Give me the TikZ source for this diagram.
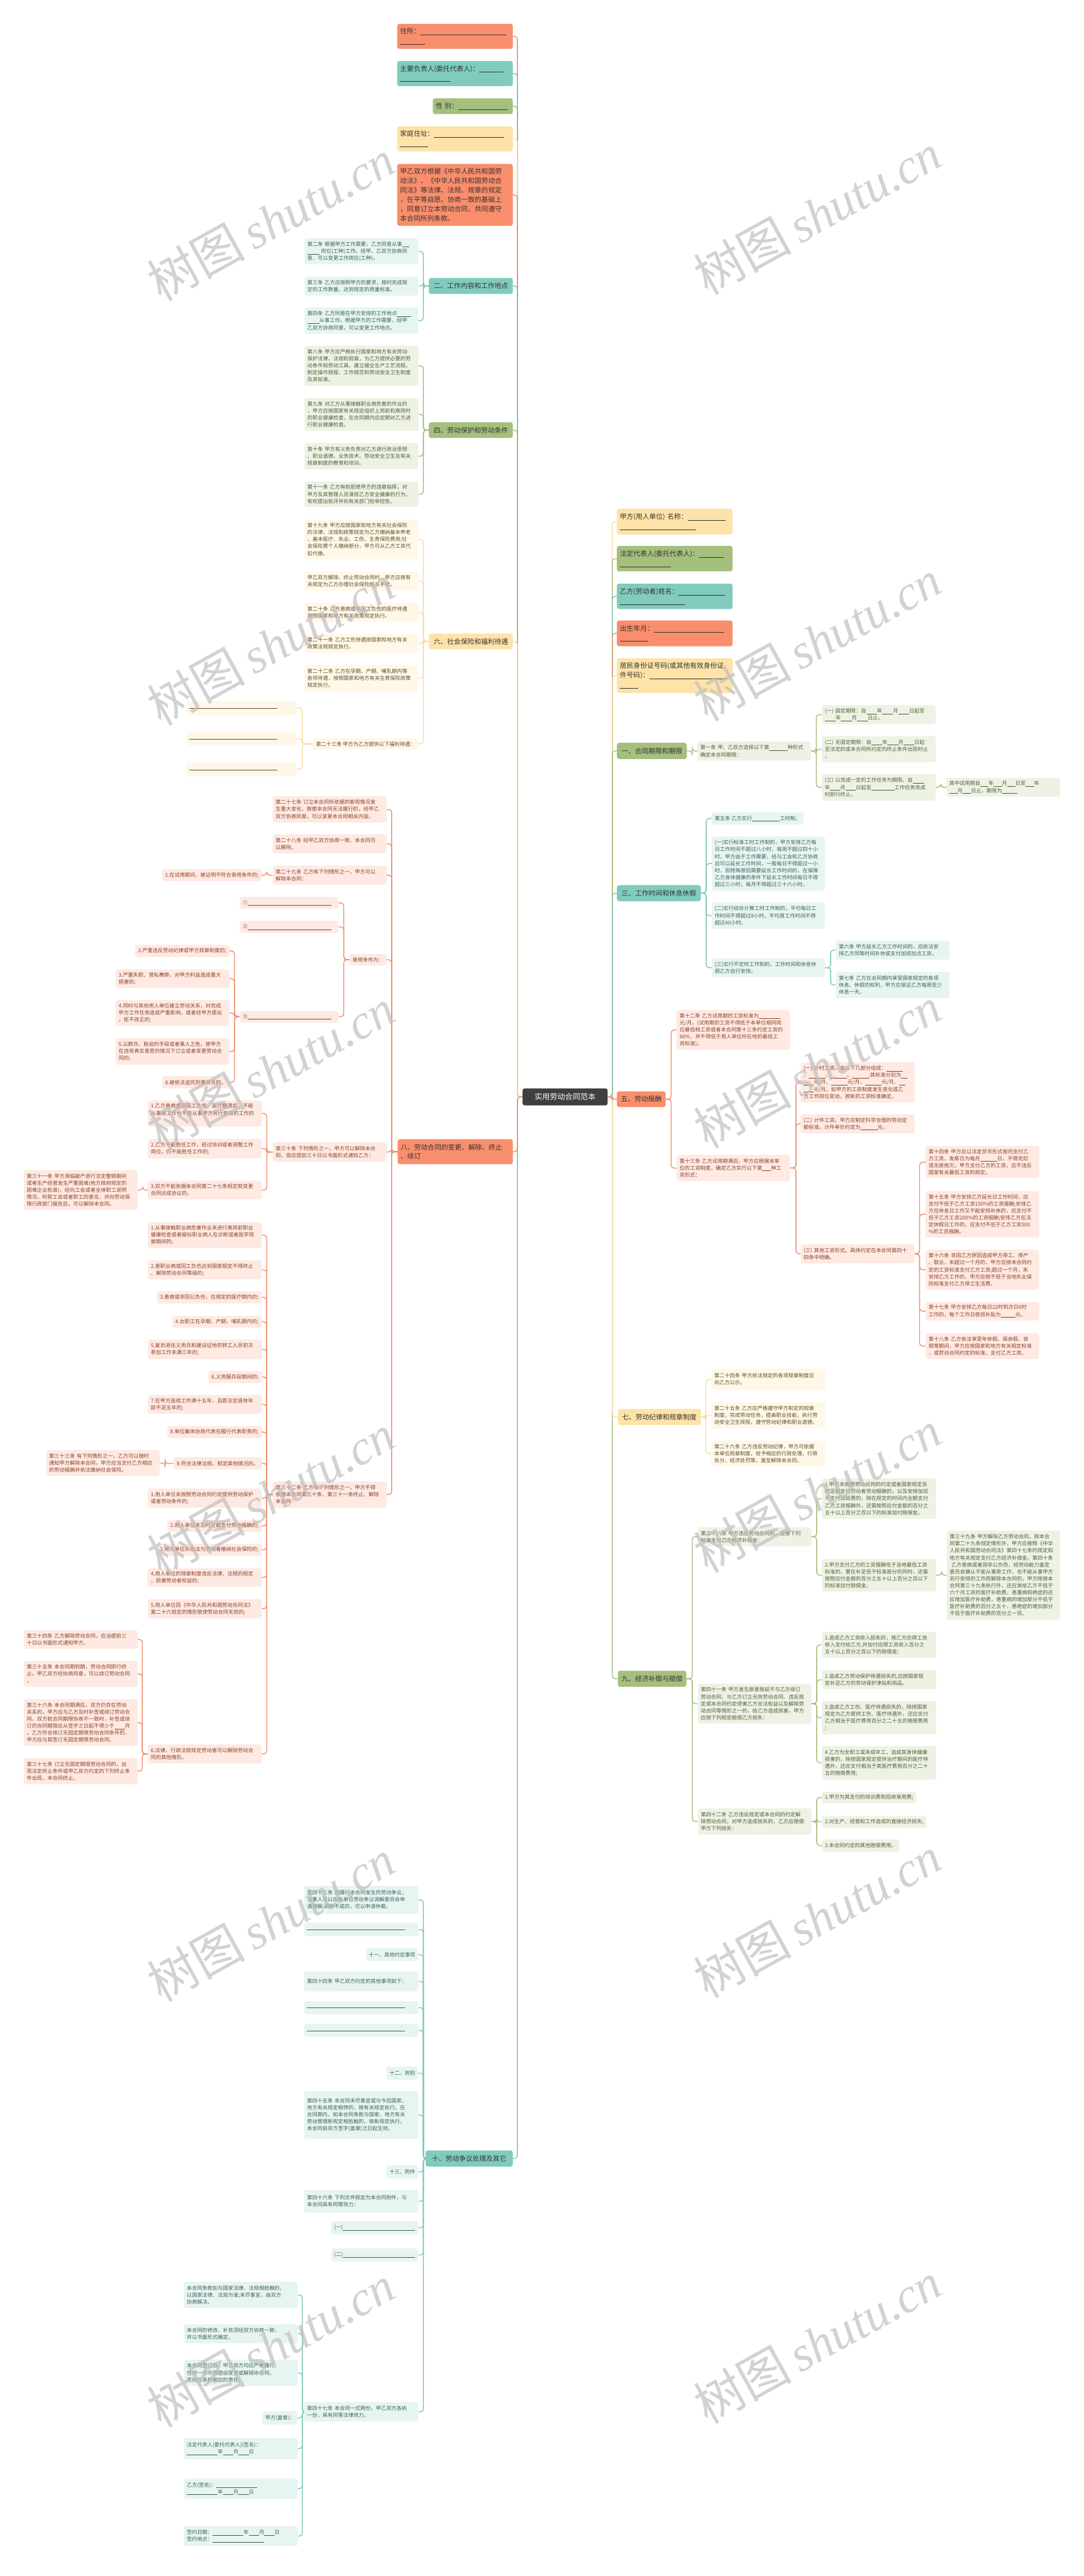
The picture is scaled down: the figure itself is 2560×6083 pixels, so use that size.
\documentclass[tikz,border=0pt]{standalone}
\usepackage{fontspec}
\setmainfont{Noto Sans CJK SC}
\newfontfamily\wmserif{Liberation Serif}
\pgfdeclarelayer{bg}\pgfdeclarelayer{fg}\pgfsetlayers{bg,main,fg}
\definecolor{cO}{HTML}{F98E6C}
\definecolor{cT}{HTML}{80CBBD}
\definecolor{cG}{HTML}{A5BF7D}
\definecolor{cY}{HTML}{FEE3A8}
\definecolor{cC}{HTML}{3E3F41}
\definecolor{fO}{HTML}{FEEAE3}
\definecolor{fT}{HTML}{E7F5F2}
\definecolor{fG}{HTML}{EEF2E5}
\definecolor{fY}{HTML}{FFF8E8}
\definecolor{tO}{HTML}{8C4127}
\definecolor{tT}{HTML}{3D5F58}
\definecolor{tG}{HTML}{4F5E38}
\definecolor{tY}{HTML}{5E4C2B}
\definecolor{tx}{HTML}{333333}
\definecolor{lO}{HTML}{F08D6C}
\definecolor{lT}{HTML}{7CC6B8}
\definecolor{lG}{HTML}{A3BC7B}
\definecolor{lY}{HTML}{F7DC9C}
\newcommand\bln[1]{\rule[-0.2em]{#1em}{0.07em}}
\newcommand\mkbox[7]{\pgfmathsetmacro\bw{#5-#3-14}\pgfmathsetmacro\bh{#6-#4}\node[#1,text width=\bw pt,minimum height=\bh pt] (#2) at (#3,#4) {#7};}
\newcommand\mkboxR[6]{\pgfmathsetmacro\bh{#5-#4}\node[#1,anchor=north east,minimum height=\bh pt] (#2) at (#3,#4) {#6};}
\newcommand\mkboxL[6]{\pgfmathsetmacro\bh{#5-#4}\node[#1,anchor=north west,minimum height=\bh pt] (#2) at (#3,#4) {#6};}
\newcommand\lkL[4]{\draw[#1] (#2.west) -- (#4,0 |- #2.west) |- (#3.east);}
\newcommand\lkR[4]{\draw[#1] (#2.east) -- (#4,0 |- #2.east) |- (#3.west);}
\tikzset{
 base/.style={rectangle,rounded corners=5pt,inner xsep=7pt,inner ysep=3pt,align=left,anchor=north west},
 tp/.style={base,fill=#1,text=tx,font=\fontsize{16}{22}\selectfont},
 hd/.style={base,fill=#1,text=tx,font=\fontsize{16}{20}\selectfont,align=center},
 lf/.style 2 args={base,fill=#1,text=#2,font=\fontsize{12.2}{16.5}\selectfont},
 lfO/.style={lf={fO}{tO}}, lfT/.style={lf={fT}{tT}}, lfG/.style={lf={fG}{tG}}, lfY/.style={lf={fY}{tY}},
 ln/.style={draw=#1,line width=2pt,rounded corners=7pt},
 wm/.style={text=black!25,opacity=0.7,rotate=29,font=\fontsize{116}{116}\selectfont}
}
\begin{document}
\begin{tikzpicture}[x=1pt,y=-1pt]
\begin{pgfonlayer}{bg}
\fill[white] (0,0) rectangle (2560,6083);
\end{pgfonlayer}
\useasboundingbox (0,0) rectangle (2560,6083);
% central
\node[base,fill=cC,text=white,font=\fontsize{18}{20}\selectfont,minimum width=201pt,minimum height=40pt,align=center] (C) at (1234,2570) {实用劳动合同范本};
% ---------- left top-level
\mkbox{tp=cO}{L1}{938}{56}{1211}{115}{住所：\bln{12.6}\\\bln{3.7}}
\mkbox{tp=cT}{L2}{938}{144}{1211}{203}{主要负责人(委托代表人)：\bln{3.6}\\\bln{7.4}}
\mkbox{tp=cG}{L3}{1022}{232}{1211}{269}{性~别：\bln{7.2}}
\mkbox{tp=cY}{L4}{938}{298}{1211}{357}{家庭住址：\bln{10.4}\\\bln{4.1}}
\mkbox{tp=cO}{L5}{938}{387}{1211}{533}{甲乙双方根据《中华人民共和国劳\\动法》、《中华人民共和国劳动合\\同法》等法律、法规、规章的规定\\，在平等自愿、协商一致的基础上\\，同意订立本劳动合同，共同遵守\\本合同所列条款。}
% ---------- 二
\mkbox{hd=cT}{H2}{1013}{656}{1211}{694}{二、工作内容和工作地点}
\mkbox{lfT}{a2}{719}{563}{988}{624}{第二条~根据甲方工作需要，乙方同意从事\bln{1.4}\\\bln{2.3}~岗位(工种)工作。经甲、乙双方协商同\\意，可以变更工作岗位(工种)。}
\mkbox{lfT}{a3}{719}{653}{988}{698}{第三条~乙方应按照甲方的要求，按时完成规\\定的工作数量，达到规定的质量标准。}
\mkbox{lfT}{a4}{719}{726}{988}{788}{第四条~乙方同意在甲方安排的工作地点\bln{2.8}\\\bln{2.3}从事工作。根据甲方的工作需要，经甲\\乙双方协商同意，可以变更工作地点。}
% ---------- 四
\mkbox{hd=cG}{H4}{1013}{997}{1211}{1034}{四、劳动保护和劳动条件}
\mkbox{lfG}{a8}{719}{816}{988}{911}{第八条~甲方应严格执行国家和地方有关劳动\\保护法律、法规和规章，为乙方提供必要的劳\\动条件和劳动工具，建立健全生产工艺流程，\\制定操作规程、工作规范和劳动安全卫生制度\\及其标准。}
\mkbox{lfG}{a9}{719}{940}{988}{1017}{第九条~对乙方从事接触职业病危害的作业的\\，甲方应按国家有关规定组织上岗前和离岗时\\的职业健康检查，在合同期内应定期对乙方进\\行职业健康检查。}
\mkbox{lfG}{a10}{719}{1046}{988}{1108}{第十条~甲方有义务负责对乙方进行政治思想\\、职业道德、业务技术、劳动安全卫生及有关\\规章制度的教育和培训。}
\mkbox{lfG}{a11}{719}{1137}{988}{1197}{第十一条~乙方有权拒绝甲方的违章指挥，对\\甲方及其管理人员漠视乙方安全健康的行为，\\有权提出批评并向有关部门检举控告。}
% ---------- 六
\mkbox{hd=cY}{H6}{1013}{1496}{1211}{1533}{六、社会保险和福利待遇}
\mkbox{lfY}{a19}{719}{1227}{988}{1320}{第十九条~甲方应按国家和地方有关社会保险\\的法律、法规和政策规定为乙方缴纳基本养老\\、基本医疗、失业、工伤、生育保险费用;社\\会保险费个人缴纳部分，甲方可从乙方工资代\\扣代缴。}
\mkbox{lfY}{a19b}{719}{1350}{988}{1394}{甲乙双方解除、终止劳动合同时，甲方应按有\\关规定为乙方办理社会保险相关手续。}
\mkbox{lfY}{a20}{719}{1423}{988}{1468}{第二十条~乙方患病或非因工负伤的医疗待遇\\按照国家和地方有关政策规定执行。}
\mkbox{lfY}{a21}{719}{1497}{988}{1542}{第二十一条~乙方工伤待遇按国家和地方有关\\政策法规规定执行。}
\mkbox{lfY}{a22}{719}{1570}{988}{1632}{第二十二条~乙方在孕期、产期、哺乳期内等\\各项待遇，按照国家和地方有关生育保险政策\\规定执行。}
\mkboxR{lfY}{a23}{988}{1743}{1770}{第二十三条~甲方为乙方提供以下福利待遇：}
\mkbox{lfY}{a231}{440}{1655}{700}{1688}{\bln{17}}
\mkbox{lfY}{a232}{440}{1728}{700}{1761}{\bln{17}}
\mkbox{lfY}{a233}{440}{1800}{700}{1833}{\bln{17}}
% ---------- 八
\mkbox{hd=cO,align=left}{H8}{939}{2690}{1211}{2749}{八、劳动合同的变更、解除、终止\\、续订}
\mkbox{lfO}{g27}{644}{1880}{913}{1942}{第二十七条~订立本合同所依据的客观情况发\\生重大变化，致使本合同无法履行的，经甲乙\\双方协商同意，可以变更本合同相关内容。}
\mkbox{lfO}{g28}{644}{1970}{913}{2015}{第二十八条~经甲乙双方协商一致，本合同可\\以解除。}
\mkbox{lfO}{g29}{644}{2044}{913}{2089}{第二十九条~乙方有下列情形之一，甲方可以\\解除本合同：}
\mkboxR{lfO}{g291}{618}{2052}{2081}{1.在试用期间，被证明不符合录用条件的;}
\mkboxR{lfO}{gL}{913}{2252}{2280}{录用条件为：}
\mkbox{lfO}{gc1}{566}{2118}{799}{2146}{①\bln{16.2}}
\mkbox{lfO}{gc2}{566}{2174}{799}{2203}{②\bln{16.2}}
\mkbox{lfO}{gc3}{566}{2387}{799}{2414}{③\bln{16.2}}
\mkboxR{lfO}{g3a}{542}{2231}{2260}{2.严重违反劳动纪律或甲方规章制度的;}
\mkbox{lfO}{g3b}{273}{2289}{542}{2333}{3.严重失职、营私舞弊，对甲方利益造成重大\\损害的;}
\mkbox{lfO}{g3c}{273}{2361}{542}{2423}{4.同时与其他用人单位建立劳动关系，对完成\\甲方工作任务造成严重影响，或者经甲方提出\\，拒不改正的;}
\mkbox{lfO}{g3d}{273}{2452}{542}{2514}{5.以欺诈、胁迫的手段或者乘人之危，使甲方\\在违背真实意思的情况下订立或者变更劳动合\\同的;}
\mkboxR{lfO}{g3e}{542}{2541}{2570}{6.被依法追究刑事责任的。}
\mkbox{lfO}{g30}{644}{2697}{913}{2743}{第三十条~下列情形之一，甲方可以解除本合\\同，但应提前三十日以书面形式通知乙方：}
\mkbox{lfO}{g301}{349}{2598}{618}{2660}{1.乙方患病或非因工负伤，医疗期满后，不能\\从事原工作也不能从事甲方另行安排的工作的\\;}
\mkbox{lfO}{g302}{349}{2689}{618}{2735}{2.乙方不能胜任工作，经过培训或者调整工作\\岗位，仍不能胜任工作的;}
\mkbox{lfO}{g303}{349}{2788}{618}{2832}{3.双方不能依据本合同第二十七条规定就变更\\合同达成协议的。}
\mkbox{lfO}{g31}{56}{2763}{325}{2857}{第三十一条~甲方濒临破产进行法定整顿期间\\或者生产经营发生严重困难(地方政府规定的\\困难企业标准)，经向工会或者全体职工说明\\情况，听取工会或者职工的意见，并向劳动保\\障行政部门报告后，可以解除本合同。}
\mkbox{lfO}{g32}{644}{3498}{913}{3560}{第三十二条~乙方有下列情形之一，甲方不得\\依据本合同第三十条、第三十一条终止、解除\\本合同：}
\mkbox{lfO}{g321}{349}{2886}{618}{2947}{1.从事接触职业病危害作业未进行离岗前职业\\健康检查或者疑似职业病人在诊断或者医学观\\察期间的;}
\mkbox{lfO}{g322}{349}{2976}{618}{3021}{2.患职业病或因工负伤达到国家规定不得终止\\、解除劳动合同等级的;}
\mkboxR{lfO}{g323}{618}{3049}{3078}{3.患病或非因公负伤，在规定的医疗期内的;}
\mkboxR{lfO}{g324}{618}{3107}{3135}{4.女职工在孕期、产期、哺乳期内的;}
\mkbox{lfO}{g325}{349}{3163}{618}{3209}{5.复员退伍义务兵和建设征地农转工人员初次\\参加工作未满三年的;}
\mkboxR{lfO}{g326}{618}{3237}{3266}{6.义务服兵役期间的;}
\mkbox{lfO}{g327}{349}{3294}{618}{3338}{7.在甲方连续工作满十五年，且距法定退休年\\龄不足五年的;}
\mkboxR{lfO}{g328}{618}{3367}{3396}{8.单位集体协商代表在履行代表职责的;}
\mkboxR{lfO}{g329}{618}{3441}{3470}{9.符合法律法规、规定其他情况的。}
\mkbox{lfO}{g33}{109}{3424}{377}{3485}{第三十三条~有下列情形之一，乙方可以随时\\通知甲方解除本合同，甲方应当支付乙方相应\\的劳动报酬并依法缴纳社会保险。}
\mkbox{lfO}{gu1}{349}{3515}{618}{3560}{1.用人单位未按照劳动合同约定提供劳动保护\\或者劳动条件的;}
\mkboxR{lfO}{gu2}{618}{3589}{3617}{2.用人单位未及时足额支付劳动报酬的;}
\mkboxR{lfO}{gu3}{618}{3645}{3674}{3.用人单位未依法为劳动者缴纳社会保险的;}
\mkbox{lfO}{gu4}{349}{3703}{618}{3747}{4.用人单位的规章制度违反法律、法规的规定\\，损害劳动者权益的;}
\mkbox{lfO}{gu5}{349}{3776}{618}{3821}{5.用人单位因《中华人民共和国劳动合同法》\\第二十六规定的情形致使劳动合同无效的;}
\mkbox{lfO}{gu6}{349}{4119}{618}{4164}{6.法律、行政法规规定劳动者可以解除劳动合\\同的其他情形。}
\mkbox{lfO}{h34}{56}{3849}{325}{3893}{第三十四条~乙方解除劳动合同，应当提前三\\十日以书面形式通知甲方。}
\mkbox{lfO}{h35}{56}{3922}{325}{3983}{第三十五条~本合同期到期，劳动合同即行终\\止。甲乙双方经协商同意，可以续订劳动合同\\。}
\mkbox{lfO}{h36}{56}{4012}{325}{4123}{第三十六条~本合同期满后，双方仍存在劳动\\关系的，甲方应与乙方及时补签或续订劳动合\\同，双方就合同期限协商不一致时，补签或续\\订的合同期限应从签字之日起不得少于\bln{2}月\\。乙方符合续订无固定期限劳动合同条件的，\\甲方应与其签订无固定期限劳动合同。}
\mkbox{lfO}{h37}{56}{4151}{325}{4213}{第三十七条~订立无固定期限劳动合同的，出\\现法定终止条件或甲乙双方约定的下列终止条\\件出现，本合同终止。}
% ---------- 十
\mkbox{hd=cT}{H10}{1005}{5078}{1211}{5116}{十、劳动争议处理及其它}
\mkbox{lfT}{k1}{718}{4453}{988}{4519}{第四十三条~因履行本合同发生的劳动争议，\\当事人可以向本单位劳动争议调解委员会申\\请调解;调解不成的，可以申请仲裁。}
\mkbox{lfT}{k2}{718}{4540}{988}{4572}{\bln{19}}
\mkboxR{lfT}{k3}{988}{4600}{4631}{十一、其他约定事项}
\mkbox{lfT}{k4}{718}{4655}{988}{4702}{第四十四条~甲乙双方约定的其他事项如下：\\}
\mkbox{lfT}{k5}{718}{4725}{988}{4756}{\bln{19}}
\mkbox{lfT}{k6}{718}{4779}{988}{4810}{\bln{19}}
\mkboxR{lfT}{k7}{988}{4880}{4911}{十二、附则}
\mkbox{lfT}{k8}{718}{4938}{988}{5050}{第四十五条~本合同未尽事宜或与今后国家、\\地方有关规定相悖的，按有关规定执行。在\\合同期内，如本合同条款与国家、地方有关\\劳动管理新规定相抵触的，按新规定执行。\\本合同自双方签字(盖章)之日起生效。}
\mkboxR{lfT}{k9}{988}{5113}{5144}{十三、附件}
\mkbox{lfT}{k10}{718}{5171}{988}{5225}{第四十六条~下列文件规定为本合同附件，与\\本合同具有同等效力：}
\mkboxR{lfT}{k11}{988}{5245}{5276}{(一)\bln{14}}
\mkboxR{lfT}{k12}{988}{5309}{5340}{(二)\bln{14}}
\mkbox{lfT}{k13}{718}{5672}{988}{5718}{第四十七条~本合同一式两份，甲乙双方各执\\一份，具有同等法律效力。}
\mkbox{lfT}{m1}{434}{5388}{703}{5450}{本合同条款如与国家法律、法规相抵触的，\\以国家法律、法规为准;未尽事宜，由双方\\协商解决。}
\mkbox{lfT}{m2}{434}{5488}{703}{5533}{本合同的修改、补充须经双方协商一致，\\并以书面形式确定。}
\mkbox{lfT}{m3}{434}{5572}{703}{5634}{本合同签订后，甲乙双方均应严格履行，\\任何一方不得擅自变更或解除本合同，\\否则应承担相应的责任。}
\mkboxR{lfT}{m4}{703}{5694}{5725}{甲方(盖章)：}
\mkbox{lfT}{m5}{434}{5757}{703}{5807}{法定代表人(委托代表人)(签名)：\\\bln{6}年\bln{2}月\bln{2}日}
\mkbox{lfT}{m6}{434}{5853}{703}{5900}{乙方(签名)：\bln{8}\\\bln{6}年\bln{2}月\bln{2}日}
\mkbox{lfT}{m7}{434}{5965}{703}{6012}{签约日期：\bln{6}年\bln{2}月\bln{2}日\\签约地点：\bln{10}}
% ---------- right top-level
\mkbox{tp=cY}{R1}{1457}{1201}{1730}{1262}{甲方(用人单位)~名称：\bln{5.6}\\\bln{11.2}}
\mkbox{tp=cG}{R2}{1457}{1289}{1730}{1349}{法定代表人(委托代表人)：\bln{3.6}\\\bln{7.5}}
\mkbox{tp=cT}{R3}{1457}{1378}{1730}{1438}{乙方(劳动者)姓名：\bln{6.8}\\\bln{9.7}}
\mkbox{tp=cO}{R4}{1457}{1465}{1730}{1526}{出生年月：\bln{10.4}\\\bln{4.2}}
\mkbox{tp=cY}{R5}{1457}{1554}{1730}{1636}{居民身份证号码(或其他有效身份证\\件号码)：\bln{11.4}\\\bln{2.7}}
% ---------- 一
\mkbox{hd=cG}{H1}{1457}{1754}{1622}{1792}{一、合同期限和期限}
\mkbox{lfG}{b1}{1647}{1751}{1915}{1796}{第一条~甲、乙双方选择以下第\bln{3.6}种形式\\确定本合同期限：}
\mkbox{lfG}{b11}{1941}{1665}{2210}{1710}{(一)~固定期限：自\bln{2.1}年\bln{2.1}月\bln{2.1}日起至\\\bln{2.1}年\bln{2.1}月\bln{2.1}日止。}
\mkbox{lfG}{b12}{1941}{1738}{2210}{1800}{(二)~无固定期限：自\bln{2.1}年\bln{2.1}月\bln{2.1}日起\\至法定的或本合同所约定的终止条件出现时止\\。}
\mkbox{lfG}{b13}{1941}{1828}{2210}{1890}{(三)~以完成一定的工作任务为期限。自\bln{2.2}\\年\bln{2}月\bln{2}日起至\bln{4.5}工作任务完成\\时即行终止。}
\mkbox{lfG}{b131}{2235}{1837}{2504}{1881}{其中试用期自\bln{1.6}年\bln{1.6}月\bln{1.6}日至\bln{1.6}年\\\bln{1.6}月\bln{1.6}日止，期限为\bln{3}}
% ---------- 三
\mkbox{hd=cT}{H3}{1457}{2090}{1655}{2128}{三、工作时间和休息休假}
\mkboxL{lfT}{c5}{1681}{1918}{1947}{第五条~乙方实行\bln{5.4}工时制。}
\mkbox{lfT}{c1}{1681}{1975}{1948}{2103}{(一)实行标准工时工作制的，甲方安排乙方每\\日工作时间不超过八小时，每周不超过四十小\\时。甲方由于工作需要，经与工会和乙方协商\\后可以延长工作时间，一般每日不得超过一小\\时，因特殊原因需要延长工作时间的，在保障\\乙方身体健康的条件下延长工作时间每日不得\\超过三小时，每月不得超过三十六小时。}
\mkbox{lfT}{c2}{1681}{2131}{1948}{2193}{(二)实行综合计算工时工作制的，平均每日工\\作时间不得超过8小时，平均周工作时间不得\\超过40小时。}
\mkbox{lfT}{c3}{1681}{2263}{1948}{2307}{(三)实行不定时工作制的，工作时间和休息休\\假乙方自行安排。}
\mkbox{lfT}{c6}{1974}{2221}{2243}{2266}{第六条~甲方延长乙方工作时间的，应依法安\\排乙方同等时间补休或支付加班加点工资。}
\mkbox{lfT}{c7}{1974}{2295}{2243}{2357}{第七条~乙方在合同期内享受国家规定的各项\\休息、休假的权利，甲方应保证乙方每周至少\\休息一天。}
% ---------- 五
\mkbox{hd=cO}{H5}{1457}{2577}{1572}{2614}{五、劳动报酬}
\mkbox{lfO}{d12}{1598}{2385}{1866}{2479}{第十二条~乙方试用期的工资标准为\bln{4.2}\\元/月。(试用期的工资不得低于本单位相同岗\\位最低档工资或者本合同第十三条约定工资的\\80\%，并不得低于用人单位所在地的最低工\\资标准)。}
\mkbox{lfO}{d13}{1598}{2727}{1866}{2789}{第十三条~乙方试用期满后，甲方应根据本单\\位的工资制度，确定乙方实行以下第\bln{1.7}种工\\资形式：}
\mkbox{lfO}{d131}{1891}{2508}{2160}{2603}{(一)~计时工资。由以下几部分组成：\bln{3.2}\\、\bln{3.2}、\bln{3.2}、\bln{3.2};其标准分别为\bln{1.2}\\\bln{1.9}元/月、\bln{3.2}元/月、\bln{3.2}元/月、\bln{1.2}\\\bln{1.9}元/月。如甲方的工资制度发生变化或乙\\方工作岗位变动，按新的工资标准确定。}
\mkbox{lfO}{d132}{1891}{2631}{2160}{2676}{(二)~计件工资。甲方应制定科学合理的劳动定\\额标准，计件单价约定为\bln{3.3}元。}
\mkbox{lfO}{d133}{1891}{2938}{2160}{2983}{(三)~其他工资形式。具体约定在本合同第四十\\四条中明确。}
\mkbox{lfO}{d14}{2186}{2706}{2454}{2782}{第十四条~甲方应以法定货币形式按月支付乙\\方工资，发薪日为每月\bln{3.3}日，不得克扣\\或无故拖欠。甲方支付乙方的工资，应不违反\\国家有关最低工资的规定。}
\mkbox{lfO}{d15}{2186}{2812}{2454}{2922}{第十五条~甲方安排乙方延长日工作时间，应\\支付不低于乙方工资150\%的工资报酬;安排乙\\方在休息日工作又不能安排补休的，应支付不\\低于乙方工资200\%的工资报酬;安排乙方在法\\定休假日工作的，应支付不低于乙方工资300\\\%的工资报酬。}
\mkbox{lfO}{d16}{2186}{2951}{2454}{3045}{第十六条~非因乙方原因造成甲方停工、停产\\、歇业，未超过一个月的，甲方应按本合同约\\定的工资标准支付乙方工资;超过一个月，未\\安排乙方工作的，甲方应按不低于当地失业保\\险标准支付乙方停工生活费。}
\mkbox{lfO}{d17}{2186}{3074}{2454}{3118}{第十七条~甲方安排乙方每日22时到次日6时\\工作的，每个工作日夜班补贴为\bln{2.8}元。}
\mkbox{lfO}{d18}{2186}{3148}{2454}{3209}{第十八条~乙方依法享受年休假、探亲假、丧\\假等期间，甲方应按国家和地方有关规定标准\\，或劳动合同约定的标准，支付乙方工资。}
% ---------- 七
\mkbox{hd=cY}{H7}{1459}{3327}{1655}{3365}{七、劳动纪律和规章制度}
\mkbox{lfY}{e24}{1680}{3232}{1949}{3282}{第二十四条~甲方依法规定的各项规章制度应\\向乙方公示。}
\mkbox{lfY}{e25}{1680}{3311}{1949}{3373}{第二十五条~乙方应严格遵守甲方制定的规章\\制度，完成劳动任务，提高职业技能，执行劳\\动安全卫生规程，遵守劳动纪律和职业道德。}
\mkbox{lfY}{e26}{1680}{3402}{1949}{3463}{第二十六条~乙方违反劳动纪律，甲方可依据\\本单位规章制度，给予相应的行政处理，行政\\处分、经济处罚等，直至解除本合同。}
% ---------- 九
\mkbox{hd=cG}{H9}{1459}{3945}{1621}{3983}{九、经济补偿与赔偿}
\mkbox{lfG}{f38}{1648}{3606}{1916}{3651}{第三十八条~甲方违反劳动合同的，应按下列\\标准支付乙方经济补偿金：}
\mkbox{lfG}{f381}{1941}{3491}{2211}{3586}{1.甲方未按照劳动合同的约定或者国家规定及\\时足额支付劳动者劳动报酬的，以及安排加班\\不支付加班费的，除在规定的时间内全额支付\\乙方工资报酬外，还需按照应付金额的百分之\\五十以上百分之百以下的标准加付赔偿金。}
\mkbox{lfG}{f382}{1941}{3681}{2211}{3758}{2.甲方支付乙方的工资报酬低于当地最低工资\\标准的，要在补足低于标准部分的同时，还需\\按照应付金额的百分之五十以上百分之百以下\\的标准加付赔偿金。}
\mkbox{lfG}{f39}{2236}{3614}{2504}{3825}{第三十九条~甲方解除乙方劳动合同，除本合\\同第二十九条规定情形外，甲方应按照《中华\\人民共和国劳动合同法》第四十七条的规定和\\地方有关规定支付乙方经济补偿金。第四十条\\~乙方患病或者因非公负伤，经劳动能力鉴定\\委员会确认不能从事原工作，也不能从事甲方\\另行安排的工作而解除本合同的，甲方除按本\\合同第三十九条执行外，还应发给乙方不低于\\六个月工资的医疗补助费。患重病和绝症的还\\应增加医疗补助费，患重病的增加部分不低于\\医疗补助费的百分之五十，患绝症的增加部分\\不低于医疗补助费的百分之一百。}
\mkbox{lfG}{f41}{1648}{3976}{1916}{4070}{第四十一条~甲方发生故意拖延不与乙方续订\\劳动合同、与乙方订立无效劳动合同、违反规\\定或本合同约定侵害乙方合法权益以及解除劳\\动合同等情形之一的，给乙方造成损害，甲方\\应按下列规定赔偿乙方损失：}
\mkbox{lfG}{f411}{1941}{3853}{2211}{3915}{1.造成乙方工资收入损失的，按乙方应得工资\\收入支付给乙方,并加付应得工资收入百分之\\五十以上百分之百以下的赔偿金;}
\mkbox{lfG}{f412}{1941}{3944}{2211}{3989}{2.造成乙方劳动保护待遇损失的,应按国家规\\定补足乙方的劳动保护津贴和用品。}
\mkbox{lfG}{f413}{1941}{4017}{2211}{4095}{3.造成乙方工伤、医疗待遇损失的，除按国家\\规定为乙方提供工伤、医疗待遇外，还应支付\\乙方相当于医疗费用百分之二十五的赔偿费用\\;}
\mkbox{lfG}{f414}{1941}{4123}{2211}{4202}{4.乙方为女职工或未成年工，造成其身体健康\\损害的，除按国家规定提供治疗期间的医疗待\\遇外，还应支付相当于其医疗费用百分之二十\\五的赔偿费用;}
\mkbox{lfG}{f42}{1648}{4270}{1916}{4332}{第四十二条~乙方违反规定或本合同的约定解\\除劳动合同，对甲方造成损失的，乙方应赔偿\\甲方下列损失：}
\mkboxL{lfG}{f421}{1941}{4231}{4258}{1.甲方为其支付的培训费和招收录用费;}
\mkboxL{lfG}{f422}{1941}{4288}{4316}{2.对生产、经营和工作造成的直接经济损失;}
\mkboxL{lfG}{f423}{1941}{4344}{4372}{3.本合同约定的其他赔偿费用。}
% ================= connectors
\begin{pgfonlayer}{bg}
\lkL{ln=lO}{C}{L1}{1222}\lkL{ln=lT}{C}{L2}{1222}\lkL{ln=lG}{C}{L3}{1222}\lkL{ln=lY}{C}{L4}{1222}\lkL{ln=lO}{C}{L5}{1222}
\lkL{ln=lT}{C}{H2}{1222}\lkL{ln=lG}{C}{H4}{1222}\lkL{ln=lY}{C}{H6}{1222}
\lkL{ln=lT}{C}{H10}{1222}\lkL{ln=lO}{C}{H8}{1222}
\lkR{ln=lY}{C}{R1}{1446}\lkR{ln=lG}{C}{R2}{1446}\lkR{ln=lT}{C}{R3}{1446}\lkR{ln=lO}{C}{R4}{1446}\lkR{ln=lY}{C}{R5}{1446}
\lkR{ln=lG}{C}{H1}{1446}\lkR{ln=lT}{C}{H3}{1446}
\lkR{ln=lG}{C}{H9}{1446}\lkR{ln=lY}{C}{H7}{1446}\lkR{ln=lO}{C}{H5}{1446}
\foreach \n in {a2,a3,a4}{\lkL{ln=lT}{H2}{\n}{1000}}
\foreach \n in {a8,a9,a10,a11}{\lkL{ln=lG}{H4}{\n}{1000}}
\foreach \n in {a19,a19b,a20,a21,a22,a23}{\lkL{ln=lY}{H6}{\n}{1000}}
\foreach \n in {a231,a232,a233}{\lkL{ln=lY}{a23}{\n}{714}}
\foreach \n in {g27,g28,g29,gL,g30,g32}{\lkL{ln=lO}{H8}{\n}{925}}
\lkL{ln=lO}{g29}{g291}{630}
\foreach \n in {gc1,gc2,gc3}{\lkL{ln=lO}{gL}{\n}{812}}
\foreach \n in {g3a,g3b,g3c,g3d,g3e}{\lkL{ln=lO}{gc3}{\n}{554}}
\foreach \n in {g301,g302,g303}{\lkL{ln=lO}{g30}{\n}{630}}
\lkL{ln=lO}{g303}{g31}{337}
\foreach \n in {g321,g322,g323,g324,g325,g326,g327,g328,g329,gu1,gu2,gu3,gu4,gu5,gu6}{\lkL{ln=lO}{g32}{\n}{630}}
\lkL{ln=lO}{g329}{g33}{390}
\foreach \n in {h34,h35,h36,h37}{\lkL{ln=lO}{gu6}{\n}{336}}
\foreach \n in {k1,k2,k3,k4,k5,k6,k7,k8,k9,k10,k11,k12,k13}{\lkL{ln=lT}{H10}{\n}{1000}}
\foreach \n in {m1,m2,m3,m4,m5,m6,m7}{\lkL{ln=lT}{k13}{\n}{714}}
\lkR{ln=lG}{H1}{b1}{1635}
\foreach \n in {b11,b12,b13}{\lkR{ln=lG}{b1}{\n}{1928}}
\lkR{ln=lG}{b13}{b131}{2222}
\foreach \n in {c5,c1,c2,c3}{\lkR{ln=lT}{H3}{\n}{1668}}
\foreach \n in {c6,c7}{\lkR{ln=lT}{c3}{\n}{1962}}
\foreach \n in {d12,d13}{\lkR{ln=lO}{H5}{\n}{1585}}
\foreach \n in {d131,d132,d133}{\lkR{ln=lO}{d13}{\n}{1880}}
\foreach \n in {d14,d15,d16,d17,d18}{\lkR{ln=lO}{d133}{\n}{2172}}
\foreach \n in {e24,e25,e26}{\lkR{ln=lY}{H7}{\n}{1667}}
\foreach \n in {f38,f41,f42}{\lkR{ln=lG}{H9}{\n}{1635}}
\foreach \n in {f381,f382}{\lkR{ln=lG}{f38}{\n}{1929}}
\lkR{ln=lG}{f382}{f39}{2224}
\foreach \n in {f411,f412,f413,f414}{\lkR{ln=lG}{f41}{\n}{1929}}
\foreach \n in {f421,f422,f423}{\lkR{ln=lG}{f42}{\n}{1929}}
\end{pgfonlayer}
% ================= watermarks
\begin{pgfonlayer}{fg}
\foreach \x/\y [count=\i] in {640/520,1930/505,640/1522,1930/1512,640/2525,1930/2520,640/3530,1930/3522,640/4535,1930/4527,640/5540,1930/5532}{
\node[wm] (wm\i) at (\x,\y) {树图\,{\wmserif\itshape shutu.cn}};}
\end{pgfonlayer}
\end{tikzpicture}
\end{document}
